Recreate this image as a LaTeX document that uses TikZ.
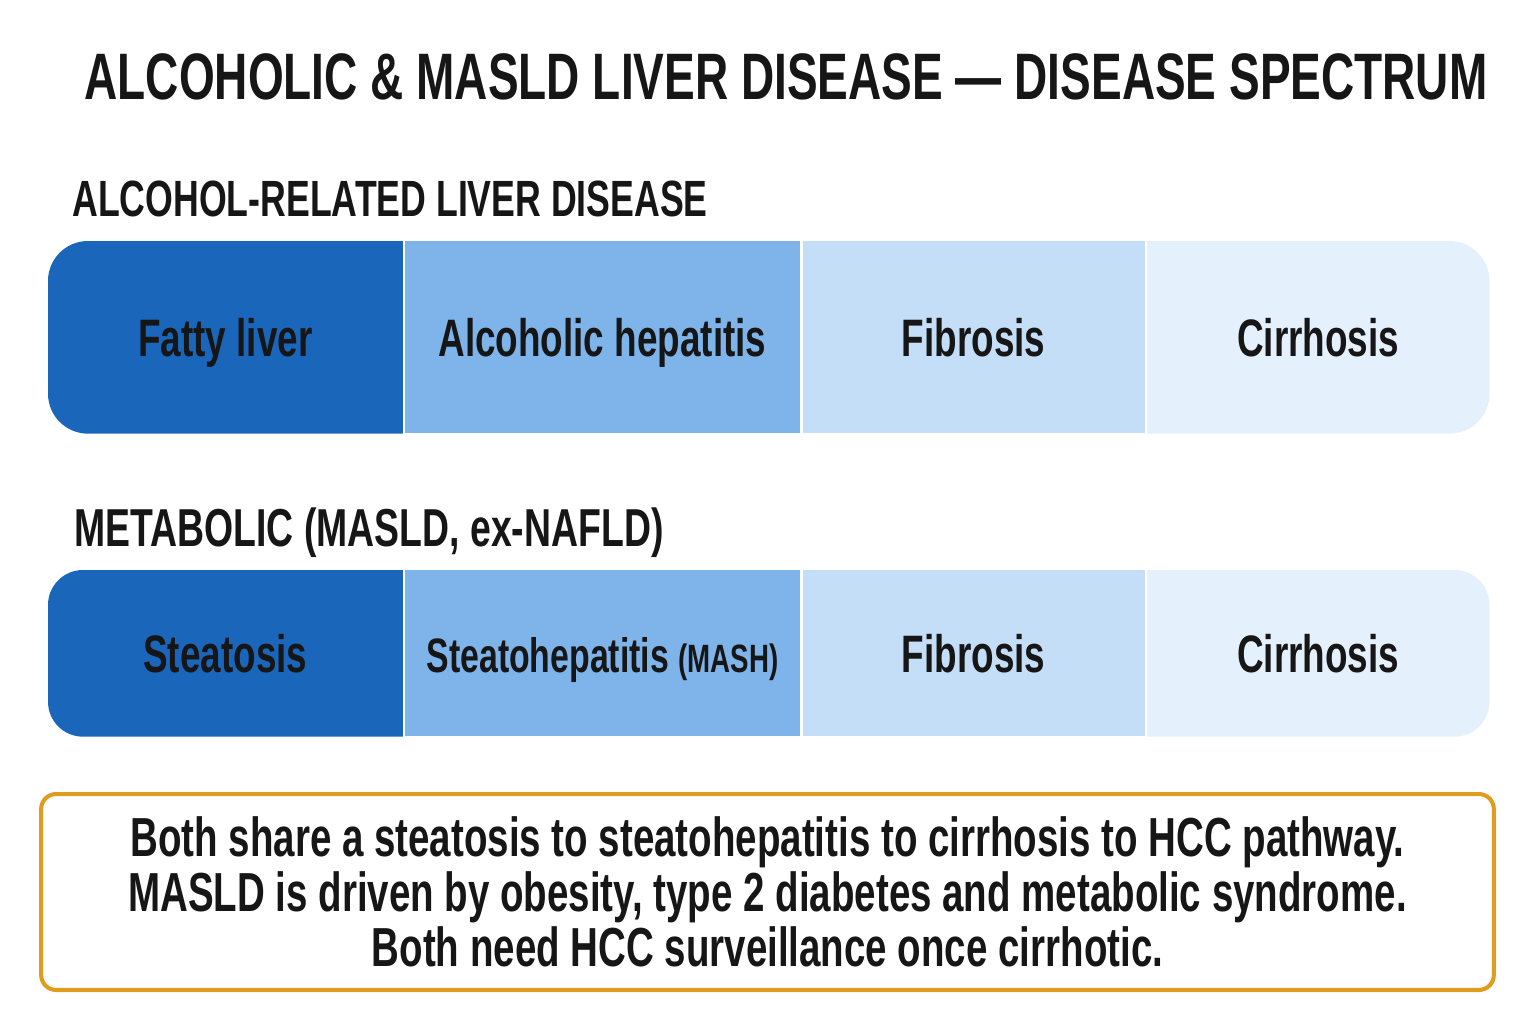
\documentclass[tikz,border=0pt]{standalone}
\usepackage{fontspec}
\setmainfont[FakeStretch=0.7]{Liberation Sans}
\usepackage{tikz}
\usetikzlibrary{positioning,backgrounds}
\definecolor{stageA}{HTML}{1A66BB}
\definecolor{stageB}{HTML}{7EB4EA}
\definecolor{stageC}{HTML}{C3DEF6}
\definecolor{stageD}{HTML}{E4F0FC}
\definecolor{notebox}{HTML}{E19B1F}
\definecolor{ink}{HTML}{161616}
\tikzset{
  stage/.style = {rectangle, minimum height=3.84cm, text centered, inner sep=0pt,
                  text height=22pt, text depth=0pt,
                  text=ink, font=\bfseries\fontsize{30}{34}\selectfont},
  stagelow/.style = {stage, minimum height=3.32cm},
  heading/.style = {anchor=base west, inner sep=0pt, text=ink,
                    font=\bfseries\fontsize{29}{33}\selectfont},
  note/.style = {rectangle, rounded corners=0.3cm, draw=notebox, line width=2.3pt,
                 minimum width=29.06cm, minimum height=3.92cm, align=center, text=ink,
                 font=\bfseries\fontsize{31.3}{31.3}\selectfont}
}

\begin{document}
\begin{tikzpicture}[x=0.02cm, y=-0.02cm, node distance=0.04cm]
  \useasboundingbox (0,0) rectangle (1536,1024);

  % title
  \node (title) [anchor=base, inner sep=0pt, text=ink, font=\bfseries\fontsize{37.4}{42}\selectfont]
    at (786,100) {ALCOHOLIC \& MASLD LIVER DISEASE — DISEASE SPECTRUM};

  % alcohol row
  \node (ald) [heading] at (72,216) {ALCOHOL-RELATED LIVER DISEASE};
  \node (fatty) [stage, minimum width=7.08cm, anchor=north west] at (48,241) {Fatty liver};
  \node (ah) [stage, minimum width=7.90cm, fill=stageB, right=of fatty] {Alcoholic hepatitis};
  \node (fib1) [stage, minimum width=6.84cm, fill=stageC, right=of ah] {Fibrosis};
  \node (cir1) [stage, minimum width=6.84cm, right=of fib1] {Cirrhosis};

  % metabolic row
  \node (masld) [heading, font=\bfseries\fontsize{30.4}{34}\selectfont] at (74,546) {METABOLIC (MASLD, ex-NAFLD)};
  \node (steat) [stagelow, minimum width=7.08cm, anchor=north west] at (48,570) {Steatosis};
  \node (mash) [stagelow, minimum width=7.90cm, fill=stageB, right=of steat]
    {\fontsize{27.5}{30}\selectfont Steatohepatitis {\fontsize{22.5}{26}\selectfont(MASH)}};
  \node (fib2) [stagelow, minimum width=6.84cm, fill=stageC, right=of mash] {Fibrosis};
  \node (cir2) [stagelow, minimum width=6.84cm, right=of fib2] {Cirrhosis};

  % rounded ends
  \begin{scope}[on background layer]
    \begin{scope}
      \clip[rounded corners=0.8cm] (fatty.south west) rectangle ([xshift=1cm]fatty.north east);
      \fill[stageA] (fatty.south west) rectangle (fatty.north east);
    \end{scope}
    \begin{scope}
      \clip[rounded corners=0.8cm] ([xshift=-1cm]cir1.south west) rectangle (cir1.north east);
      \fill[stageD] (cir1.south west) rectangle (cir1.north east);
    \end{scope}
    \begin{scope}
      \clip[rounded corners=0.7cm] (steat.south west) rectangle ([xshift=1cm]steat.north east);
      \fill[stageA] (steat.south west) rectangle (steat.north east);
    \end{scope}
    \begin{scope}
      \clip[rounded corners=0.7cm] ([xshift=-1cm]cir2.south west) rectangle (cir2.north east);
      \fill[stageD] (cir2.south west) rectangle (cir2.north east);
    \end{scope}
  \end{scope}

  % summary
  \node (sum) [note] at (767.5,892) {Both share a steatosis to steatohepatitis to cirrhosis to HCC pathway.\\
    MASLD is driven by obesity, type 2 diabetes and metabolic syndrome.\\
    Both need HCC surveillance once cirrhotic.};
\end{tikzpicture}
\end{document}
